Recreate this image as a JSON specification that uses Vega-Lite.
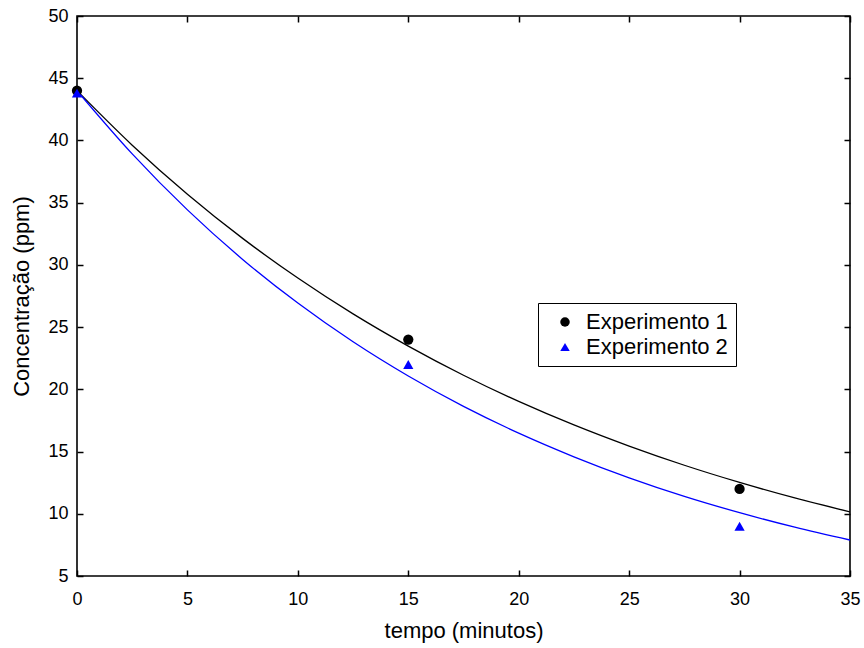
{
  "$schema": "https://vega.github.io/schema/vega-lite/v6.json",
  "width": 773,
  "height": 560,
  "autosize": {"type": "none"},
  "padding": {"left": 77, "top": 16, "right": 14, "bottom": 72},
  "background": "white",
  "config": {
    "font": "Liberation Sans",
    "view": {"stroke": "black", "strokeWidth": 1.6},
    "axis": {"grid": false, "domain": false, "tickColor": "black", "tickWidth": 1.5, "labelColor": "black", "titleColor": "black", "labelFont": "Liberation Sans", "titleFont": "Liberation Sans", "labelFontSize": 18, "titleFontSize": 22, "titleFontWeight": "normal", "labelFlush": false, "labelOverlap": false}
  },
  "datasets": {
    "curves": [
      {"t": 0, "c": 44, "serie": "Experimento 1"},
      {"t": 2.5, "c": 39.62, "serie": "Experimento 1"},
      {"t": 5, "c": 35.68, "serie": "Experimento 1"},
      {"t": 7.5, "c": 32.13, "serie": "Experimento 1"},
      {"t": 10, "c": 28.94, "serie": "Experimento 1"},
      {"t": 12.5, "c": 26.06, "serie": "Experimento 1"},
      {"t": 15, "c": 23.47, "serie": "Experimento 1"},
      {"t": 17.5, "c": 21.13, "serie": "Experimento 1"},
      {"t": 20, "c": 19.03, "serie": "Experimento 1"},
      {"t": 22.5, "c": 17.14, "serie": "Experimento 1"},
      {"t": 25, "c": 15.44, "serie": "Experimento 1"},
      {"t": 27.5, "c": 13.9, "serie": "Experimento 1"},
      {"t": 30, "c": 12.52, "serie": "Experimento 1"},
      {"t": 32.5, "c": 11.27, "serie": "Experimento 1"},
      {"t": 35, "c": 10.15, "serie": "Experimento 1"},
      {"t": 0, "c": 44, "serie": "Experimento 2"},
      {"t": 2.5, "c": 38.92, "serie": "Experimento 2"},
      {"t": 5, "c": 34.42, "serie": "Experimento 2"},
      {"t": 7.5, "c": 30.44, "serie": "Experimento 2"},
      {"t": 10, "c": 26.93, "serie": "Experimento 2"},
      {"t": 12.5, "c": 23.82, "serie": "Experimento 2"},
      {"t": 15, "c": 21.07, "serie": "Experimento 2"},
      {"t": 17.5, "c": 18.63, "serie": "Experimento 2"},
      {"t": 20, "c": 16.48, "serie": "Experimento 2"},
      {"t": 22.5, "c": 14.58, "serie": "Experimento 2"},
      {"t": 25, "c": 12.89, "serie": "Experimento 2"},
      {"t": 27.5, "c": 11.4, "serie": "Experimento 2"},
      {"t": 30, "c": 10.09, "serie": "Experimento 2"},
      {"t": 32.5, "c": 8.92, "serie": "Experimento 2"},
      {"t": 35, "c": 7.89, "serie": "Experimento 2"}
    ],
    "points": [
      {"t": 0, "c": 44, "serie": "Experimento 1"},
      {"t": 15, "c": 24, "serie": "Experimento 1"},
      {"t": 30, "c": 12, "serie": "Experimento 1"},
      {"t": 0, "c": 43.8, "serie": "Experimento 2"},
      {"t": 15, "c": 22, "serie": "Experimento 2"},
      {"t": 30, "c": 9, "serie": "Experimento 2"}
    ]
  },
  "layer": [
    {
      "data": {"name": "curves"},
      "transform": [{"filter": "datum.serie === 'Experimento 1'"}],
      "mark": {"type": "line", "strokeWidth": 1.3, "interpolate": "monotone", "clip": true, "color": "black"},
      "encoding": {
        "x": {"field": "t", "type": "quantitative", "scale": {"domain": [0, 35], "nice": false}, "axis": {"orient": "bottom", "title": "tempo (minutos)", "values": [0,5,10,15,20,25,30,35], "tickSize": -6, "labelPadding": 20, "titlePadding": 12}},
        "y": {"field": "c", "type": "quantitative", "scale": {"domain": [5, 50], "nice": false, "zero": false}, "axis": {"orient": "left", "title": "Concentração (ppm)", "values": [5,10,15,20,25,30,35,40,45,50], "tickSize": -6, "labelPadding": 15, "titlePadding": 14}}
      }
    },
    {
      "data": {"name": "curves"},
      "transform": [{"filter": "datum.serie === 'Experimento 2'"}],
      "mark": {"type": "line", "strokeWidth": 1.3, "interpolate": "monotone", "clip": true, "color": "blue"},
      "encoding": {
        "x": {"field": "t", "type": "quantitative", "axis": null},
        "y": {"field": "c", "type": "quantitative", "axis": null}
      }
    },
    {
      "data": {"name": "points"},
      "mark": {"type": "point", "filled": true, "opacity": 1, "size": 105},
      "encoding": {
        "x": {"field": "t", "type": "quantitative", "axis": {"orient": "top", "title": null, "labels": false, "values": [0,5,10,15,20,25,30,35], "tickSize": -6}},
        "y": {"field": "c", "type": "quantitative", "axis": {"orient": "right", "title": null, "labels": false, "values": [5,10,15,20,25,30,35,40,45,50], "tickSize": -6}},
        "color": {"field": "serie", "type": "nominal", "scale": {"domain": ["Experimento 1", "Experimento 2"], "range": ["black", "blue"]}, "legend": {"title": null, "orient": "none", "legendX": 461, "legendY": 287, "strokeColor": "black", "fillColor": "white", "padding": 8, "labelFontSize": 22, "labelFont": "Liberation Sans", "labelColor": "black", "symbolSize": 90, "symbolOffset": 8, "rowPadding": 3, "labelOffset": 10}},
        "shape": {"field": "serie", "type": "nominal", "scale": {"domain": ["Experimento 1", "Experimento 2"], "range": ["circle", "triangle-up"]}}
      }
    }
  ],
  "resolve": {"axis": {"x": "independent", "y": "independent"}}
}
